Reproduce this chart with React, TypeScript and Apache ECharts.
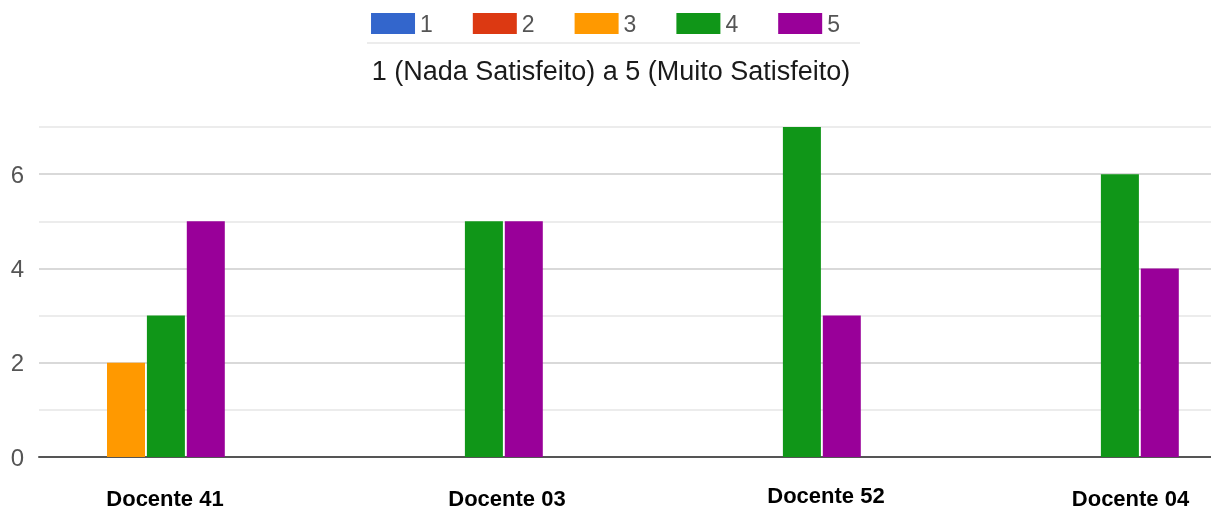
import React, { useEffect, useRef } from "react";
import * as echarts from "echarts";

const categories = ["Docente 41", "Docente 03", "Docente 52", "Docente 04"];
const seriesNames = ["1", "2", "3", "4", "5"];
const values1 = [0, 0, 0, 0];
const values2 = [0, 0, 0, 0];
const values3 = [2, 0, 0, 0];
const values4 = [3, 5, 7, 6];
const values5 = [5, 5, 3, 4];
const yTickLabels = [0, 2, 4, 6];
const colors = ["#3366cc", "#dc3912", "#ff9900", "#109618", "#990099"];
const subtitle = "1 (Nada Satisfeito) a 5 (Muito Satisfeito)";

// per-category label offsets (label placement in the original image)
const labelShift = [78, 126, 128, 101];
const labelTop = [3, 3, 0, 3];

export default function App() {
  const ref = useRef<HTMLDivElement>(null);
  useEffect(() => {
    if (!ref.current) return;
    const chart = echarts.init(ref.current, undefined, { renderer: "svg" });
    const allValues = [values1, values2, values3, values4, values5];
    const font = "'Liberation Sans', Arial, sans-serif";
    chart.setOption({
      animation: false,
      color: colors,
      textStyle: { fontFamily: font },
      title: {
        text: subtitle,
        left: 606,
        textAlign: "center",
        top: 52,
        textStyle: { fontSize: 27, fontWeight: "normal", color: "#1a1a1a", fontFamily: font },
      },
      legend: {
        data: seriesNames,
        top: 7,
        left: "center",
        itemWidth: 44,
        itemHeight: 21,
        itemGap: 40,
        icon: "rect",
        textStyle: { fontSize: 23, color: "#555", fontFamily: font },
      },
      graphic: [
        {
          type: "line",
          shape: { x1: 367, y1: 43, x2: 860, y2: 43 },
          style: { stroke: "#e6e6e6", lineWidth: 1.5 },
        },
      ],
      grid: [
        { left: 39, right: 0, top: 127, height: 330, outerBoundsMode: "none" },
        { left: -33, width: 1272, top: 127, height: 330, outerBoundsMode: "none" },
      ],
      xAxis: [
        {
          gridIndex: 0,
          type: "value",
          min: 0,
          max: 1,
          axisLine: { show: true, lineStyle: { color: "#555", width: 2 } },
          axisTick: { show: false },
          axisLabel: { show: false },
          splitLine: { show: false },
        },
        {
          gridIndex: 1,
          type: "category",
          data: categories.map((c, i) => ({
            value: c,
            textStyle: { padding: [labelTop[i], 0, 0, labelShift[i]] },
          })),
          axisLine: { show: false },
          axisTick: { show: false },
          axisLabel: {
            margin: 29,
            fontSize: 22,
            lineHeight: 18,
            fontWeight: "bold",
            color: "#000",
            fontFamily: font,
          },
        },
      ],
      yAxis: [
        {
          gridIndex: 0,
          type: "value",
          min: 0,
          max: 7,
          interval: 1,
          axisLine: { show: false },
          axisTick: { show: false },
          axisLabel: {
            margin: 15,
            fontSize: 24,
            color: "#555",
            fontFamily: font,
            formatter: (v: number) => (yTickLabels.includes(v) ? String(v) : ""),
          },
          splitLine: { show: true, lineStyle: { color: ["#d9d9d9", "#ececec"], width: 2 } },
        },
        {
          gridIndex: 1,
          type: "value",
          min: 0,
          max: 7,
          show: false,
        },
      ],
      series: seriesNames.map((name, i) => ({
        name,
        type: "bar",
        xAxisIndex: 1,
        yAxisIndex: 1,
        data: allValues[i],
        barWidth: 38,
        barGap: "5%",
      })),
    });
    return () => chart.dispose();
  }, []);
  return (
    <div
      ref={ref}
      style={{ width: 1211, height: 510, position: "fixed", left: 0, top: 0 }}
    />
  );
}
